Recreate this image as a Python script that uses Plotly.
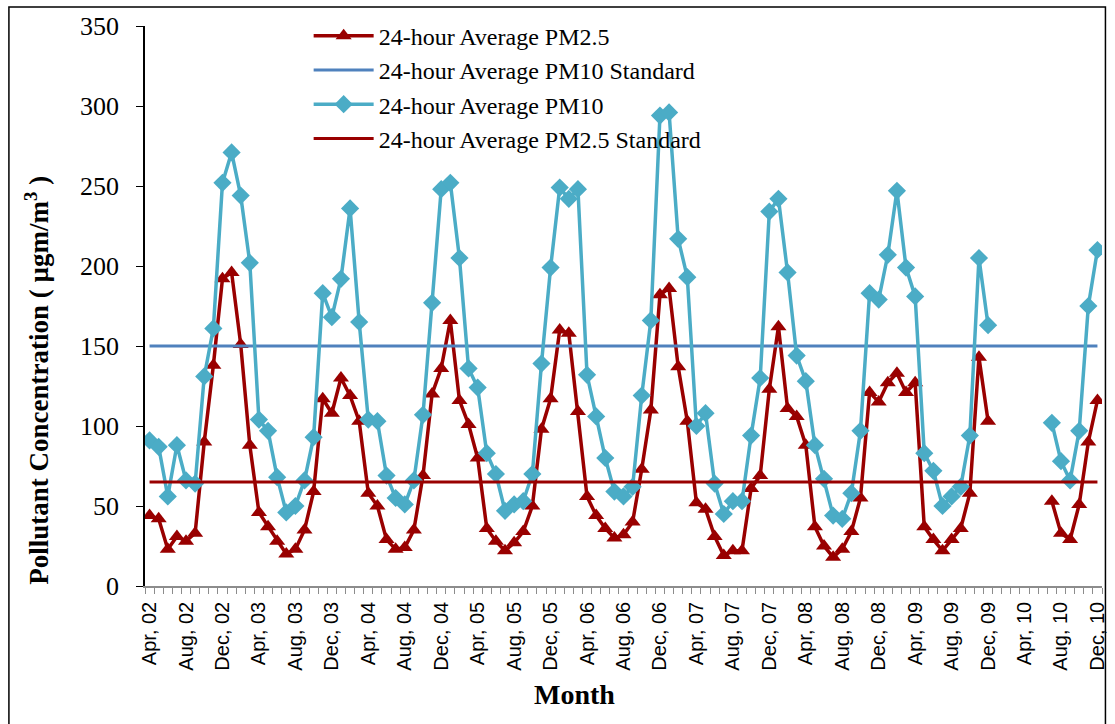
import plotly.graph_objects as go

# Monthly series, Apr 2002 - Dec 2010
month_names = ["Jan", "Feb", "Mar", "Apr", "May", "Jun",
               "Jul", "Aug", "Sep", "Oct", "Nov", "Dec"]
years = ["02", "03", "04", "05", "06", "07", "08", "09", "10"]
months = [f"{m}, {y}" for y in years for m in month_names][3:]

pm25 = [44, 42, 23, 31, 28, 33, 90, 138, 192, 196, 151, 88,
        46, 37, 28, 20, 23, 35, 59, 117, 108, 130, 119, 103,
        58, 50, 29, 23, 24, 35, 69, 120, 136, 166, 116, 101,
        80, 36, 28, 22, 27, 34, 50, 98, 117, 160, 158, 109,
        56, 44, 36, 30, 32, 40, 73, 110, 182, 186, 137, 103,
        52, 48, 31, 19, 22, 22, 61, 69, 123, 162, 111, 106,
        88, 37, 25, 18, 23, 34, 55, 121, 115, 127, 133, 121,
        127, 37, 29, 22, 29, 36, 58, 143, 103, None, None, None,
        None, None, None, 53, 33, 29, 51, 90, 116]

pm10 = [91, 87, 56, 88, 66, 64, 131, 161, 252, 271, 244, 202,
        104, 97, 68, 46, 50, 66, 93, 183, 168, 192, 236, 165,
        104, 103, 69, 55, 51, 66, 107, 177, 248, 252, 205, 136,
        124, 83, 70, 47, 51, 53, 70, 139, 199, 249, 242, 248,
        132, 106, 80, 59, 56, 62, 119, 166, 294, 296, 217, 193,
        100, 108, 64, 45, 53, 53, 94, 130, 234, 242, 196, 144,
        128, 88, 67, 44, 42, 58, 97, 183, 179, 207, 247, 199,
        181, 83, 72, 50, 56, 62, 94, 205, 163, None, None, None,
        None, None, None, 102, 78, 66, 97, 175, 210]

PM10_STANDARD = 150
PM25_STANDARD = 65
pm10_std = [PM10_STANDARD] * len(months)
pm25_std = [PM25_STANDARD] * len(months)

x = list(range(len(months)))
label_idx = x[::4]
label_text = [months[i] for i in label_idx]

DARK_RED = "#990000"
AQUA = "#4BACC6"
BLUE = "#4F81BD"

fig = go.Figure()
fig.add_trace(go.Scatter(
    x=x, y=pm25, name="24-hour Average PM2.5", mode="lines+markers",
    line=dict(color=DARK_RED, width=3.5),
    marker=dict(symbol="triangle-up", size=14, color=DARK_RED)))
fig.add_trace(go.Scatter(
    x=x, y=pm10_std, name="24-hour Average PM10 Standard", mode="lines",
    line=dict(color=BLUE, width=3)))
fig.add_trace(go.Scatter(
    x=x, y=pm10, name="24-hour Average PM10", mode="lines+markers",
    line=dict(color=AQUA, width=3.5),
    marker=dict(symbol="diamond", size=14, color=AQUA)))
fig.add_trace(go.Scatter(
    x=x, y=pm25_std, name="24-hour Average PM2.5 Standard", mode="lines",
    line=dict(color=DARK_RED, width=3)))

fig.update_layout(
    width=1115, height=724,
    margin=dict(l=145, r=7, t=26, b=138),
    paper_bgcolor="white", plot_bgcolor="white",
    showlegend=True,
    legend=dict(
        x=0.171, y=1.022, xanchor="left", yanchor="top",
        bgcolor="rgba(0,0,0,0)", itemwidth=60,
        font=dict(family="Liberation Serif", size=24, color="black"),
        tracegroupgap=0),
    xaxis=dict(
        range=[-0.5, len(months) - 0.5],
        tickmode="array", tickvals=label_idx, ticktext=label_text,
        tickangle=-90, ticks="outside", ticklen=0,
        ticklabelstandoff=6,
        tickfont=dict(family="Liberation Sans", size=20, color="black"),
        showline=True, linecolor="#8c8c8c", linewidth=1.5,
        showgrid=False, zeroline=False,
        minor=dict(tickmode="linear", tick0=-0.5, dtick=1,
                   ticks="outside", ticklen=6, tickcolor="#8c8c8c",
                   tickwidth=1, showgrid=False)),
    yaxis=dict(
        range=[0, 350], tickmode="linear", tick0=0, dtick=50,
        ticks="outside", ticklen=7, tickcolor="black", tickwidth=1,
        ticklabelstandoff=12,
        tickfont=dict(family="Liberation Serif", size=26, color="black"),
        showline=True, linecolor="black", linewidth=1.5,
        showgrid=False, zeroline=False),
    annotations=[
        dict(text="<b>Month</b>", x=0.4484, y=-0.1946,
             xref="paper", yref="paper",
             xanchor="center", yanchor="middle", showarrow=False,
             font=dict(family="Liberation Serif", size=28, color="black")),
        dict(text="<b>Pollutant Concentration ( \u00b5gm/m<sup>3</sup> )</b>",
             x=-0.1131, y=0.3679, xref="paper", yref="paper",
             xanchor="center", yanchor="middle", textangle=-90,
             showarrow=False,
             font=dict(family="Liberation Serif", size=27, color="black")),
    ],
    shapes=[dict(type="rect", xref="paper", yref="paper",
                 x0=-0.1422, x1=1.0036, y0=-0.27, y1=1.034,
                 line=dict(color="black", width=1.5))],
)

fig.write_html("out.html")
